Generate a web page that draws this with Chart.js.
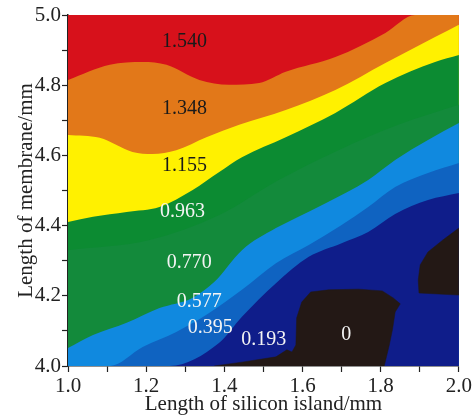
<!DOCTYPE html>
<html>
<head>
<meta charset="utf-8">
<script src="https://cdn.jsdelivr.net/npm/chart.js@4.4.1/dist/chart.umd.min.js"></script>
<style>
  body { margin: 0; background: #fff; }
  #wrap { width: 474px; height: 419px; }
</style>
</head>
<body>
<div id="wrap"><canvas id="contour" width="474" height="419"></canvas></div>
<script>
// contour level values shown in each band (top to bottom)
const levels = ["1.540", "1.348", "1.155", "0.963", "0.770", "0.577", "0.395", "0.193", "0"];
// where each level label sits, [x, y] in data units
const labelAt = [[1.298, 4.923], [1.298, 4.732], [1.298, 4.570], [1.293, 4.439], [1.310, 4.293],
                 [1.336, 4.182], [1.364, 4.108], [1.501, 4.074], [1.712, 4.088]];

// band boundaries, [x, y]
const edgeTop = [[1.0, 5.0], [2.0, 5.0]];
const edgeRedOrange = [[1.000, 4.815], [1.107, 4.858], [1.191, 4.866], [1.252, 4.858], [1.336, 4.815],
  [1.412, 4.801], [1.489, 4.806], [1.557, 4.838], [1.684, 4.880], [1.812, 4.949], [1.888, 5.0], [2.0, 5.0]];
const edgeOrangeYellow = [[1.000, 4.658], [1.081, 4.650], [1.165, 4.610], [1.216, 4.604], [1.277, 4.615],
  [1.354, 4.652], [1.438, 4.687], [1.557, 4.729], [1.684, 4.786], [1.812, 4.863], [1.939, 4.937], [2.0, 4.972]];
const edgeYellowGreen = [[1.000, 4.410], [1.064, 4.425], [1.150, 4.439], [1.234, 4.453], [1.318, 4.501],
  [1.387, 4.553], [1.445, 4.595], [1.557, 4.652], [1.684, 4.721], [1.812, 4.806], [1.939, 4.866], [2.0, 4.886]];
const edgeGreenGreen = [[1.000, 4.330], [1.209, 4.359], [1.387, 4.430], [1.539, 4.530], [1.692, 4.615],
  [1.845, 4.687], [2.0, 4.744]];
const edgeGreenBlue = [[1.000, 4.051], [1.064, 4.088], [1.150, 4.123], [1.234, 4.165], [1.318, 4.194],
  [1.374, 4.239], [1.445, 4.330], [1.532, 4.393], [1.583, 4.422], [1.659, 4.464], [1.768, 4.530],
  [1.837, 4.587], [1.921, 4.644], [2.0, 4.692]];
const edgeBlueMid = [[1.0, 4.0], [1.107, 4.0], [1.191, 4.054], [1.277, 4.097], [1.361, 4.151], [1.445, 4.217],
  [1.532, 4.293], [1.616, 4.345], [1.700, 4.402], [1.768, 4.453], [1.837, 4.510], [1.921, 4.550], [2.0, 4.578]];
const edgeMidDark = [[1.0, 4.0], [1.260, 4.0], [1.387, 4.066], [1.445, 4.140], [1.532, 4.236], [1.616, 4.311],
  [1.700, 4.350], [1.768, 4.382], [1.837, 4.433], [1.921, 4.473], [2.0, 4.493]];
// zero islands (closed outlines)
const zeroMain = [[1.374, 4.0], [1.445, 4.011], [1.532, 4.026], [1.560, 4.046], [1.573, 4.040], [1.583, 4.060],
  [1.585, 4.137], [1.598, 4.182], [1.621, 4.211], [1.667, 4.217], [1.743, 4.219], [1.804, 4.214],
  [1.832, 4.194], [1.850, 4.177], [1.837, 4.154], [1.830, 4.103], [1.822, 4.060], [1.809, 4.0]];
const zeroRight = [[2.0, 4.393], [1.959, 4.359], [1.921, 4.325], [1.901, 4.288], [1.896, 4.245],
  [1.898, 4.208], [2.0, 4.202]];

const bandColors = ["#d7111b", "#e27819", "#fff100", "#0c8b32", "#138a3b", "#1089df", "#0f63c1", "#0f1d8a"];
const zeroColor = "#231815";

const toPts = arr => arr.map(p => ({ x: p[0], y: p[1] }));

const edges = [edgeTop, edgeRedOrange, edgeOrangeYellow, edgeYellowGreen, edgeGreenGreen,
               edgeGreenBlue, edgeBlueMid, edgeMidDark];
const painted = edges.map((e, i) => ({
  data: toPts(e),
  showLine: true,
  fill: "start",
  backgroundColor: bandColors[i],
  borderWidth: 0,
  pointRadius: 0,
  cubicInterpolationMode: "monotone"
}));
[zeroMain, zeroRight].forEach(z => painted.push({
  data: toPts(z),
  showLine: true,
  fill: "shape",
  backgroundColor: zeroColor,
  borderColor: zeroColor,
  borderWidth: 0.5,
  pointRadius: 0,
  tension: 0
}));
// first in list is painted first (underneath)
painted.forEach((d, i) => { d.order = painted.length - i; });

const levelLabelsPlugin = {
  id: "levelLabels",
  afterDatasetsDraw(chart) {
    const { ctx, scales: { x, y } } = chart;
    ctx.save();
    ctx.font = "20px 'Liberation Serif', 'Times New Roman', serif";
    ctx.textAlign = "center";
    ctx.textBaseline = "middle";
    levels.forEach((t, i) => {
      ctx.fillStyle = i < 3 ? "#1a1a1a" : "#f4f4f4";
      ctx.fillText(t, x.getPixelForValue(labelAt[i][0]), y.getPixelForValue(labelAt[i][1]));
    });
    ctx.restore();
  }
};

const serif = "'Liberation Serif', 'Times New Roman', serif";
const majorOnly = v => (Math.round(v * 10) % 2 === 0 ? v.toFixed(1) : "");

new Chart(document.getElementById("contour"), {
  type: "scatter",
  data: { datasets: painted },
  options: {
    responsive: false,
    devicePixelRatio: 1,
    animation: false,
    events: [],
    layout: { padding: { left: 0, right: 13, top: 15, bottom: 0 } },
    plugins: { legend: { display: false }, tooltip: { enabled: false } },
    scales: {
      x: {
        type: "linear", min: 1.0, max: 2.0,
        afterFit: s => { s.height = 53; },
        ticks: { stepSize: 0.1, autoSkip: false, maxRotation: 0, callback: majorOnly,
                 color: "#222", padding: 2, font: { family: serif, size: 21 } },
        grid: { drawOnChartArea: false, tickLength: 6, tickColor: "#222", tickWidth: 1.2 },
        border: { color: "#222", width: 1.5 },
        title: { display: true, text: "Length of silicon island/mm", color: "#222",
                 padding: { top: 0, bottom: 2 }, font: { family: serif, size: 21 } }
      },
      y: {
        type: "linear", min: 4.0, max: 5.0,
        afterFit: s => { s.width = 68; },
        ticks: { stepSize: 0.1, autoSkip: false, callback: majorOnly,
                 color: "#222", padding: 1, font: { family: serif, size: 21 } },
        grid: { drawOnChartArea: false, tickLength: 6, tickColor: "#222", tickWidth: 1.2 },
        border: { color: "#222", width: 1.5 },
        title: { display: true, text: "Length of membrane/mm", color: "#222",
                 padding: { top: 14, bottom: 0 }, font: { family: serif, size: 21 } }
      }
    }
  },
  plugins: [levelLabelsPlugin]
});
</script>
</body>
</html>
